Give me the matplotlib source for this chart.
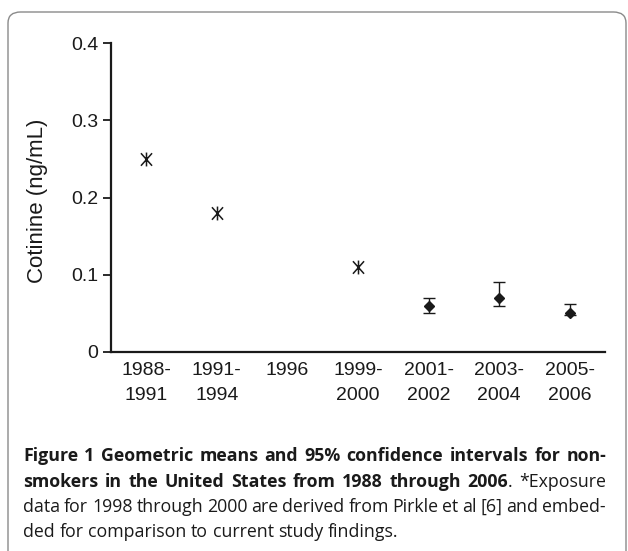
import matplotlib
matplotlib.use("Agg")
import matplotlib.pyplot as plt
from matplotlib.patches import FancyBboxPatch
from matplotlib.path import Path

# ---- data ----
categories = ["1988-\n1991", "1991-\n1994", "1996", "1999-\n2000", "2001-\n2002", "2003-\n2004", "2005-\n2006"]
pirkle_idx = [0, 1, 3]
pirkle_means = [0.25, 0.18, 0.11]
study_idx = [4, 5, 6]
study_means = [0.06, 0.07, 0.05]
study_lower = [0.05, 0.06, 0.048]
study_upper = [0.07, 0.09, 0.062]
yticks = [0, 0.1, 0.2, 0.3, 0.4]
ytick_labels = ["0", "0.1", "0.2", "0.3", "0.4"]

caption_lines = [
    [("Figure 1 Geometric means and 95% confidence intervals for non-", "bold")],
    [("smokers in the United States from 1988 through 2006", "bold"), (". *Exposure", "normal")],
    [("data for 1998 through 2000 are derived from Pirkle et al [6] and embed-", "normal")],
    [("ded for comparison to current study findings.", "normal")],
]

W, H = 628, 551
fig = plt.figure(figsize=(W / 100, H / 100), dpi=100)

# rounded frame
frame = FancyBboxPatch((8 / W, -20 / H), (618) / W, (H - 12 + 20) / H,
                       boxstyle="round,pad=0,rounding_size=0.02",
                       transform=fig.transFigure, fill=False,
                       edgecolor="#8a8a8a", linewidth=1.0)
fig.patches.append(frame)

ax_l, ax_r, ax_t, ax_b = 111, 605, 43, 352
ax = fig.add_axes([ax_l / W, 1 - ax_b / H, (ax_r - ax_l) / W, (ax_b - ax_t) / H])

fam = ["Liberation Sans", "DejaVu Sans"]
tick_font = dict(family=fam, size=14)
ink = "#1a1a1a"

star = Path([(0, -1), (0, 1), (-0.8, -0.9), (0.8, 0.9), (-0.8, 0.9), (0.8, -0.9)],
            [Path.MOVETO, Path.LINETO, Path.MOVETO, Path.LINETO, Path.MOVETO, Path.LINETO])

ax.plot(pirkle_idx, pirkle_means, linestyle="none", marker=star,
        markersize=10, markeredgewidth=1.1, color=ink)
yerr = [[m - lo for m, lo in zip(study_means, study_lower)],
        [hi - m for m, hi in zip(study_means, study_upper)]]
ax.errorbar(study_idx, study_means, yerr=yerr, fmt="D", markersize=5,
            color=ink, ecolor=ink, elinewidth=1.0, capsize=4, capthick=1.0)

ax.set_xlim(-0.5, 6.5)
ax.set_ylim(0, 0.4)
ax.set_yticks(yticks)
ax.set_yticklabels(ytick_labels, **tick_font, color=ink)
ax.set_xticks(range(len(categories)))
ax.set_xticklabels(categories, **tick_font, color=ink, linespacing=1.6)
ax.tick_params(axis="x", length=0, pad=7)
ax.tick_params(axis="y", length=6, width=1.3, pad=3, colors=ink)
for s in ["top", "right"]:
    ax.spines[s].set_visible(False)
for s in ["left", "bottom"]:
    ax.spines[s].set_linewidth(1.6)
    ax.spines[s].set_color(ink)
ax.set_ylabel("Cotinine (ng/mL)", family=fam, size=16, color=ink)
ax.yaxis.set_label_coords(-0.128, 0.49)

# ---- caption (justified) ----
cap_font = ["Open Sans", "DejaVu Sans"]
cap_left, cap_right = 23, 606
baselines = [461, 487, 512, 537]
renderer = fig.canvas.get_renderer()

def word_width(word, weight, size):
    t = fig.text(0, 0, word, family=cap_font, weight=weight, size=size)
    w = t.get_window_extent(renderer).width
    t.remove()
    return w

def line_words(line):
    words = []
    for text, weight in line:
        parts = text.split(" ")
        for i, p in enumerate(parts):
            if p == "":
                continue
            if i == 0 and words and not text.startswith(" "):
                words.append((p, weight, True))
            else:
                words.append((p, weight, False))
    return words

target = cap_right - cap_left
ref_size = 10.0
space0 = word_width("a b", "normal", ref_size) - word_width("ab", "normal", ref_size)
needed = 0
for line in caption_lines[:3]:
    ws = line_words(line)
    total = sum(word_width(w, wt, ref_size) for w, wt, _ in ws)
    gaps = sum(1 for _, _, g in ws[1:] if not g)
    needed = max(needed, total + gaps * space0 * 0.85)
size = ref_size * target / needed

for li, line in enumerate(caption_lines):
    ws = line_words(line)
    widths = [word_width(w, wt, size) for w, wt, _ in ws]
    ngaps = sum(1 for _, _, g in ws[1:] if not g)
    if li < 3:
        gap = (target - sum(widths)) / max(ngaps, 1)
    else:
        gap = word_width("a b", "normal", size) - word_width("ab", "normal", size)
    x = cap_left
    y = 1 - baselines[li] / H
    for k, ((w, wt, glued), ww) in enumerate(zip(ws, widths)):
        if k > 0 and not glued:
            x += gap
        fig.text(x / W, y, w, family=cap_font, weight=wt, size=size,
                 color="#1a1a1a", va="baseline", ha="left")
        x += ww

fig.savefig("out.png", dpi=100)
